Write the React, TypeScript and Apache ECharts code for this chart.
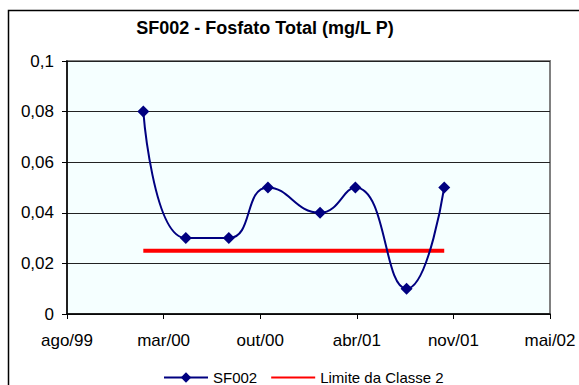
import React, { useEffect, useRef } from "react";
import * as echarts from "echarts";

// Sampling dates and measured values (mg/L P)
const sampleDates = [
  "2000-02-03",
  "2000-05-01",
  "2000-07-29",
  "2000-10-18",
  "2001-02-03",
  "2001-04-17",
  "2001-08-01",
  "2001-10-18",
];
const sf002Values = [0.08, 0.03, 0.03, 0.05, 0.04, 0.05, 0.01, 0.05];
const limiteValues = [0.025, 0.025, 0.025, 0.025, 0.025, 0.025, 0.025, 0.025];

const yTicks = [0, 0.02, 0.04, 0.06, 0.08, 0.1];
const monthNames = ["jan", "fev", "mar", "abr", "mai", "jun", "jul", "ago", "set", "out", "nov", "dez"];

// Axis origin date and tick spacing (days)
const AXIS_START = Date.UTC(1999, 7, 29);
const DAY = 86400000;
const TICK_DAYS = 200;

function toDays(s: string): number {
  const [y, m, d] = s.split("-").map(Number);
  return (Date.UTC(y, m - 1, d) - AXIS_START) / DAY;
}

function dayLabel(v: number): string {
  const dt = new Date(AXIS_START + v * DAY);
  const yy = String(dt.getUTCFullYear() % 100).padStart(2, "0");
  return monthNames[dt.getUTCMonth()] + "/" + yy;
}

const FONT = "'Liberation Sans', Arial, sans-serif";

export default function App() {
  const ref = useRef<HTMLDivElement>(null);
  useEffect(() => {
    if (!ref.current) return;
    const chart = echarts.init(ref.current, undefined, { renderer: "svg" });
    const sfData = sampleDates.map((d, i) => [toDays(d), sf002Values[i]]);
    const limData = sampleDates.map((d, i) => [toDays(d), limiteValues[i]]);
    chart.setOption({
      animation: false,
      backgroundColor: "#ffffff",
      textStyle: { fontFamily: FONT },
      title: {
        text: "SF002 - Fosfato Total (mg/L P)",
        left: 265,
        textAlign: "center",
        top: 19,
        padding: 0,
        textStyle: { fontFamily: FONT, fontSize: 18, fontWeight: "bold", color: "#000" },
      },
      graphic: [
        {
          type: "polyline",
          shape: { points: [[8.5, 400], [8.5, 10.5], [600, 10.5]] },
          style: { stroke: "#000", lineWidth: 1.5, fill: "none" },
          silent: true,
        },
      ],
      legend: {
        left: 163,
        top: 370,
        padding: 0,
        itemGap: 13,
        itemWidth: 44,
        itemHeight: 13,
        textStyle: { fontFamily: FONT, fontSize: 15, color: "#000", lineHeight: 15 },
        data: ["SF002", "Limite da Classe 2"],
      },
      grid: {
        left: 67,
        top: 61,
        right: 29,
        bottom: 71,
        show: true,
        backgroundColor: "#F5FFFF",
        borderColor: "#808080",
        borderWidth: 2,
      },
      xAxis: {
        type: "value",
        min: 0,
        max: TICK_DAYS * 5,
        interval: TICK_DAYS,
        axisLine: { show: true, lineStyle: { color: "#000", width: 1.5 } },
        axisTick: { show: true, inside: false, length: 5, lineStyle: { color: "#000" } },
        splitLine: { show: false },
        axisLabel: {
          margin: 18,
          fontSize: 17,
          fontFamily: FONT,
          color: "#000",
          formatter: (v: number) => dayLabel(v),
        },
      },
      yAxis: {
        type: "value",
        min: yTicks[0],
        max: yTicks[yTicks.length - 1],
        interval: 0.02,
        axisLine: { show: true, lineStyle: { color: "#000", width: 1.5 } },
        axisTick: { show: true, inside: false, length: 5, lineStyle: { color: "#000" } },
        splitLine: { show: true, lineStyle: { color: "#222", width: 1 } },
        axisLabel: {
          margin: 13,
          fontSize: 17,
          fontFamily: FONT,
          color: "#000",
          formatter: (v: number) => String(Math.round(v * 100) / 100).replace(".", ","),
        },
      },
      series: [
        {
          name: "SF002",
          type: "line",
          data: sfData,
          smooth: 0.5,
          symbol: "diamond",
          symbolSize: 12,
          itemStyle: { color: "#000080" },
          lineStyle: { color: "#000080", width: 2 },
          z: 3,
        },
        {
          name: "Limite da Classe 2",
          type: "line",
          data: limData,
          symbol: "none",
          itemStyle: { color: "#FF0000", opacity: 0 },
          lineStyle: { color: "#FF0000", width: 4 },
          z: 2,
        },
      ],
    });
    return () => chart.dispose();
  }, []);
  return (
    <div
      ref={ref}
      style={{ position: "fixed", left: 0, top: 0, width: 579, height: 385 }}
    />
  );
}
